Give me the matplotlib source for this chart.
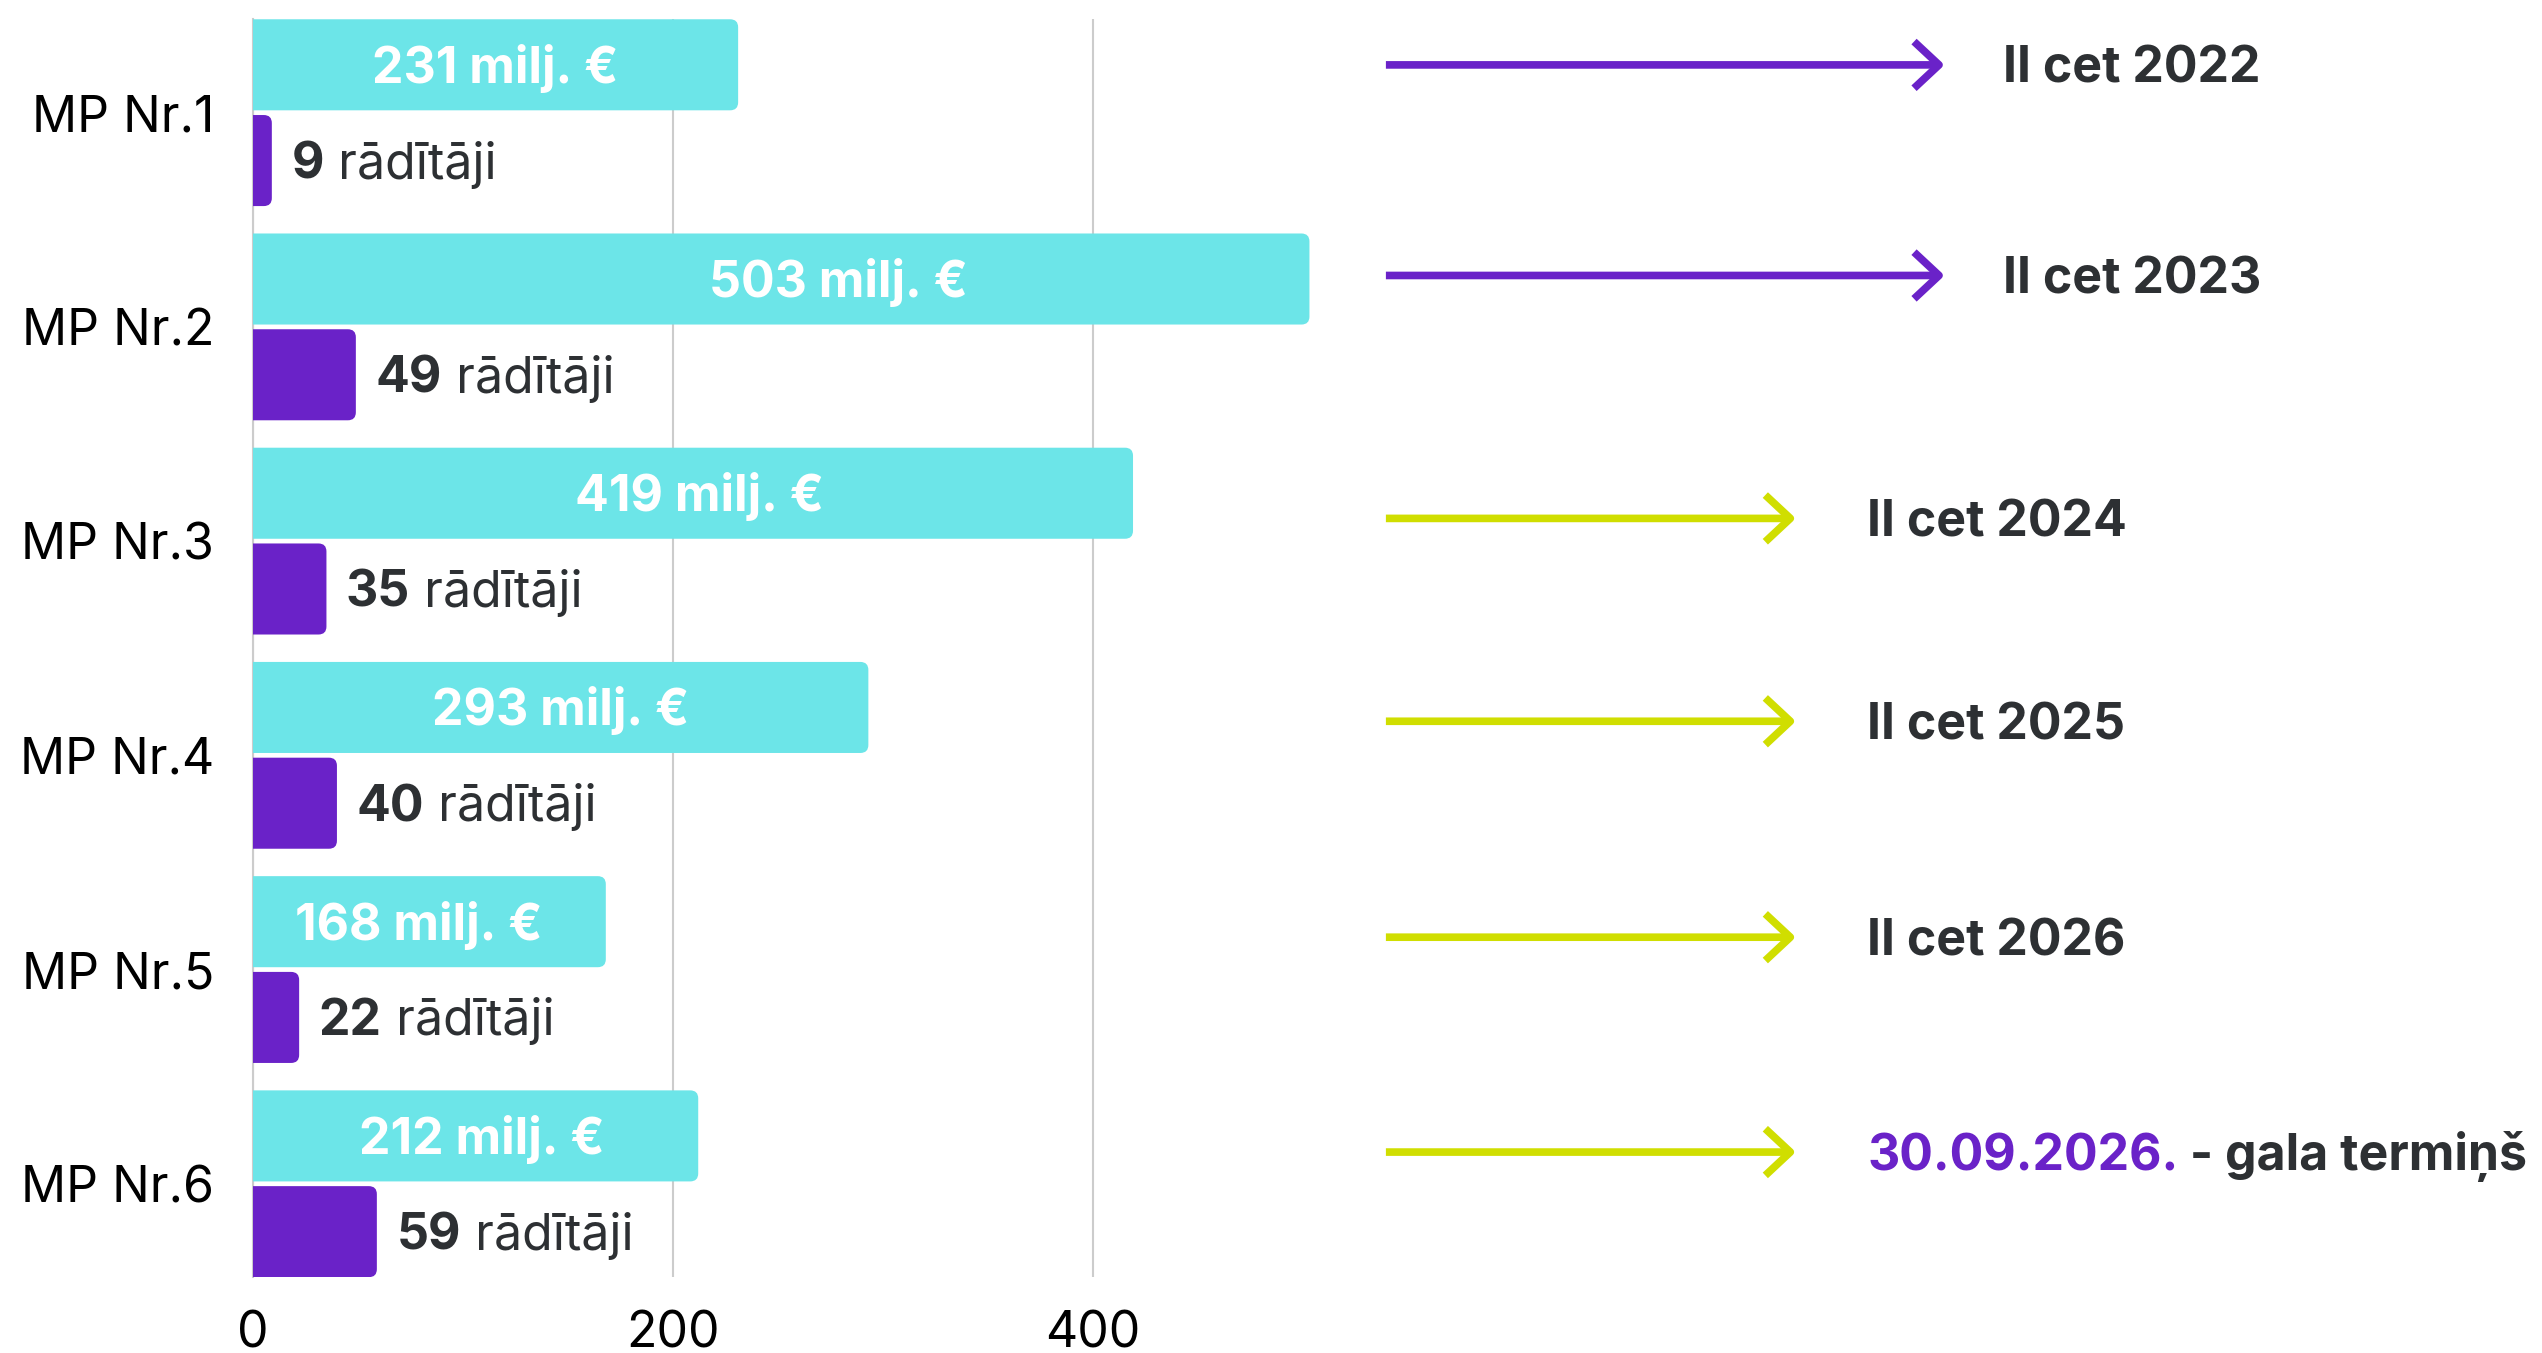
import numpy as np
import matplotlib
matplotlib.use('Agg')
import matplotlib.pyplot as plt
from matplotlib.patches import FancyBboxPatch
from matplotlib.transforms import blended_transform_factory, offset_copy

# ---------------- data ----------------
categories = ['MP Nr.1', 'MP Nr.2', 'MP Nr.3', 'MP Nr.4', 'MP Nr.5', 'MP Nr.6']
funding = [231, 503, 419, 293, 168, 212]          # milj. €
indicators = [9, 49, 35, 40, 22, 59]              # rādītāji
deadlines = ['II cet 2022', 'II cet 2023', 'II cet 2024', 'II cet 2025', 'II cet 2026', '30.09.2026.']
final_suffix = ' - gala termiņš'
xticks = [0, 200, 400]

# ---------------- style / layout ----------------
CYAN = '#6CE5E8'
PURPLE = '#6A22C8'
LIME = '#D0DE00'
DARK = '#2D3033'
FONT = ['Inter', 'DejaVu Sans']
FS = 36
CAP_DROP = -0.36 * FS   # points: shift baseline so cap-height is centred

arrow_colors = [PURPLE, PURPLE, LIME, LIME, LIME, LIME]
arrow_dy = [-0.223, -0.24, -0.106, -0.159, -0.151, -0.148]
arrow_x0 = 0.5452
arrow_x1 = [0.765, 0.765, 0.7065, 0.7065, 0.7065, 0.7065]
text_x = [0.788, 0.788, 0.7345, 0.7345, 0.7345, 0.7345]
label_dx = [0, 27, 3, 0, -5, 3]   # shift of funding labels (data units)

plt.rcParams['font.family'] = FONT

fig = plt.figure(figsize=(25.42, 13.53), dpi=100)
ax = fig.add_axes([0.0995, 0.0562, 0.4462, 0.9294])

n = len(categories)
y = np.arange(n)
h = 0.425
off = 0.2235
XMAX = 540
YLIM = (n - 1 + 0.435, -0.435)
ax.set_ylim(*YLIM)
ax.set_xlim(0, XMAX)

bars1 = ax.barh(y - off, funding, height=h, color=CYAN, zorder=3)
bars2 = ax.barh(y + off, indicators, height=h, color=PURPLE, zorder=3)

# round right corners of bars
ax_w_px = 0.4462 * 2542
ax_h_px = 0.9294 * 1353
ux = XMAX / ax_w_px
uy = (YLIM[0] - YLIM[1]) / ax_h_px
r_px = 8
for bars in (bars1, bars2):
    for b in bars:
        b.set_visible(False)
        x0, y0, w, hh = b.get_x(), b.get_y(), b.get_width(), b.get_height()
        p = FancyBboxPatch((x0 - 2 * r_px * ux, y0), w + 2 * r_px * ux, hh,
                           boxstyle=f'round,pad=0,rounding_size={r_px * ux}',
                           mutation_aspect=uy / ux, facecolor=b.get_facecolor(),
                           edgecolor='none', zorder=3, clip_on=True)
        ax.add_patch(p)
        p.set_clip_path(ax.patch)

ax.set_xticks(xticks)
ax.set_xticklabels([str(t) for t in xticks], fontsize=FS, color='black')
ax.set_yticks(y)
ax.set_yticklabels(categories, fontsize=FS, color='black')
ax.tick_params(axis='both', length=0)
ax.tick_params(axis='y', pad=28)
ax.tick_params(axis='x', pad=24)
ax.grid(axis='x', color='#CCCCCC', linewidth=1.5, zorder=0)
for s in ['top', 'right', 'bottom']:
    ax.spines[s].set_visible(False)
ax.spines['left'].set_color('#CCCCCC')
ax.spines['left'].set_linewidth(1.5)

# cyan labels (centered, white bold)
for yi, v, dx in zip(y, funding, label_dx):
    ax.annotate(f'{v} milj. €', xy=(v / 2 + dx, yi - off), xytext=(0, CAP_DROP),
                textcoords='offset points', ha='center', va='baseline',
                fontsize=FS, fontweight='bold', color='white', zorder=4)

fig.canvas.draw()
renderer = fig.canvas.get_renderer()

# purple labels: bold number + regular word
for yi, v in zip(y, indicators):
    t1 = ax.annotate(str(v), xy=(v, yi + off), xytext=(14, CAP_DROP), textcoords='offset points',
                     ha='left', va='baseline', fontsize=FS, fontweight='bold', color=DARK)
    bb = t1.get_window_extent(renderer)
    ax.annotate(' rādītāji', xy=(v, yi + off), xytext=(14 + bb.width * 72 / fig.dpi, CAP_DROP),
                textcoords='offset points', ha='left', va='baseline', fontsize=FS,
                fontweight='normal', color=DARK)

# arrows and deadlines
trans = blended_transform_factory(fig.transFigure, ax.transData)
for i in range(n):
    yy = y[i] + arrow_dy[i]
    ax.annotate('', xy=(arrow_x1[i], yy), xytext=(arrow_x0, yy), xycoords=trans, textcoords=trans,
                arrowprops=dict(arrowstyle='->,head_length=0.45,head_width=0.42', color=arrow_colors[i],
                                lw=5.5, shrinkA=0, shrinkB=0, mutation_scale=40,
                                joinstyle='round', capstyle='butt'),
                annotation_clip=False)
    col = PURPLE if i == n - 1 else DARK
    tr = offset_copy(trans, fig=fig, x=0, y=CAP_DROP, units='points')
    t = ax.text(text_x[i], yy, deadlines[i], transform=tr, ha='left', va='baseline',
                fontsize=FS, fontweight='bold', color=col, clip_on=False)
    if i == n - 1:
        bb = t.get_window_extent(renderer)
        tr2 = offset_copy(trans, fig=fig, x=bb.width * 72 / fig.dpi, y=CAP_DROP, units='points')
        ax.text(text_x[i], yy, final_suffix, transform=tr2,
                ha='left', va='baseline', fontsize=FS, fontweight='bold', color=DARK, clip_on=False)

fig.savefig('out.png', dpi=100)
